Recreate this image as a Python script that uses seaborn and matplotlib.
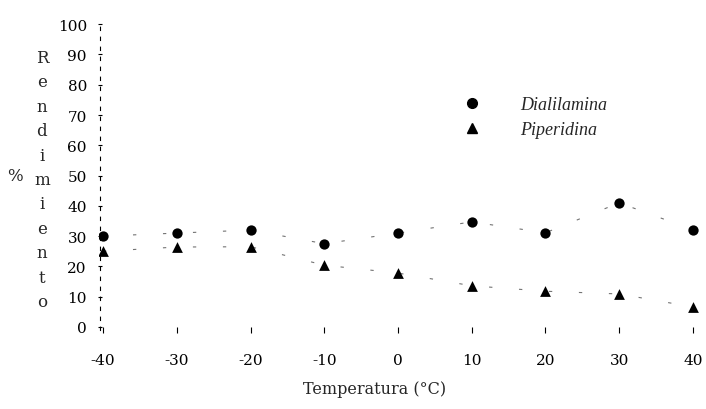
import matplotlib
matplotlib.use("Agg")
import matplotlib.pyplot as plt
import seaborn as sns
import pandas as pd
from matplotlib.lines import Line2D

temps = [-40, -30, -20, -10, 0, 10, 20, 30, 40]
dialilamina = [30.0, 31.0, 32.0, 27.5, 31.0, 34.7, 31.1, 41.0, 32.1]
piperidina = [25.0, 26.4, 26.5, 20.4, 17.8, 13.6, 11.8, 10.9, 6.6]
series_names = ["Dialilamina", "Piperidina"]
yticks = list(range(0, 101, 10))
xlabel = "Temperatura (°C)"
ylabel = "Rendimiento"

sns.set_style("white")
plt.rcParams["font.family"] = ["DejaVu Serif"]

fig = plt.figure(figsize=(7.06, 4.10), dpi=100)
ax = fig.add_axes([0.1407, 0.1927, 0.8565, 0.7533])

df = pd.DataFrame({"T": temps, "D": dialilamina, "P": piperidina})

sns.lineplot(data=df, x="T", y="D", ax=ax, color="black", lw=0.8,
             linestyle=(0, (3, 24)), alpha=0.55)
sns.lineplot(data=df, x="T", y="P", ax=ax, color="black", lw=0.8,
             linestyle=(0, (3, 24)), alpha=0.55)
sns.scatterplot(data=df, x="T", y="D", ax=ax, color="black", marker="o",
                s=55, edgecolor="black", linewidth=0, zorder=3)
sns.scatterplot(data=df, x="T", y="P", ax=ax, color="black", marker="^",
                s=60, edgecolor="black", linewidth=0, zorder=3)

ax.set_xlim(-40.5, 41.5)
ax.set_ylim(-1, 101)
ax.set_xticks(temps)
ax.set_xticklabels([str(t) for t in temps])
ax.set_yticks(yticks)
ax.set_yticklabels([str(t) for t in yticks])

for s in ["top", "right", "bottom"]:
    ax.spines[s].set_visible(False)
ax.spines["left"].set_position(("data", -40.4))
ax.spines["left"].set_linestyle((0, (3, 6)))
ax.spines["left"].set_linewidth(0.8)
ax.spines["left"].set_color("black")

ax.tick_params(axis="x", direction="inout", length=5, width=0.8,
               bottom=True, pad=14, labelsize=11, colors="black")
ax.tick_params(axis="y", direction="inout", length=3, width=0.8,
               left=True, pad=8, labelsize=11, colors="black")

ax.set_xlabel("")
ax.set_ylabel("\n".join(ylabel), rotation=0, fontsize=12, linespacing=1.57,
              ha="center", va="center")
ax.yaxis.set_label_coords(-0.095, 0.487)
fig.text(15 / 706, 1 - 177 / 410, "%", fontsize=12, ha="center", va="center")
fig.text(375 / 706, 1 - 390 / 410, xlabel, fontsize=11.5, ha="center", va="center")

handles = [
    Line2D([], [], marker="o", color="black", linestyle="none", markersize=7),
    Line2D([], [], marker="^", color="black", linestyle="none", markersize=7),
]
leg = ax.legend(handles, series_names, frameon=False, loc="center left",
                bbox_to_anchor=(0.574, 0.69), handlelength=1.0,
                handletextpad=2.2, labelspacing=0.45,
                prop={"family": "Liberation Serif", "style": "italic", "size": 13})

fig.savefig("out.png", dpi=100, facecolor="white")
